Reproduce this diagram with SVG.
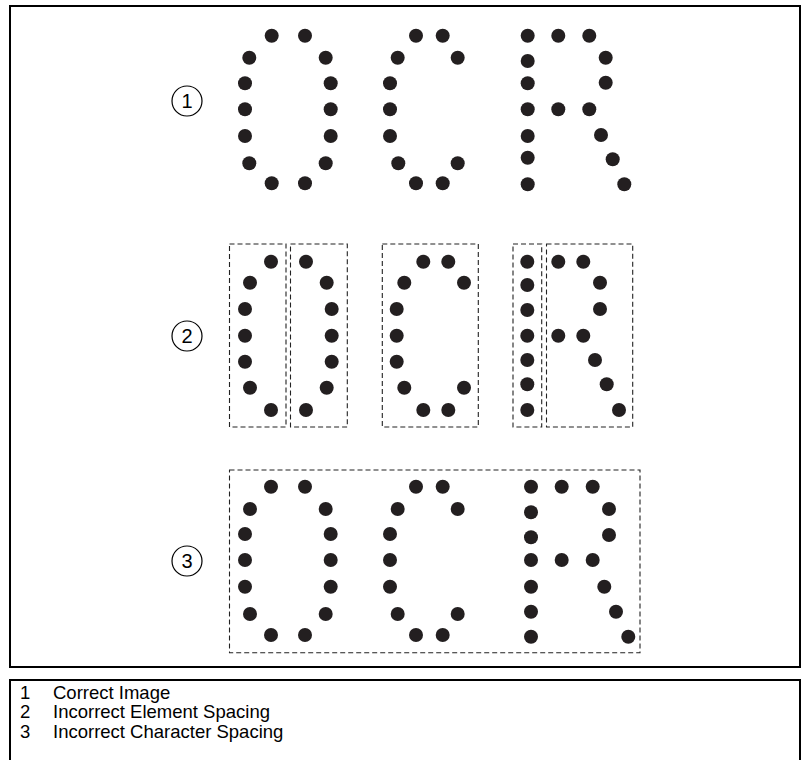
<svg xmlns="http://www.w3.org/2000/svg" xmlns:xlink="http://www.w3.org/1999/xlink" width="802" height="760" viewBox="0 0 802 760">
<style>
.frame{fill:none;stroke:#000;stroke-width:2}
.d{fill:#231f20}
.box{fill:none;stroke:#222;stroke-width:1.1;stroke-dasharray:5 3}
.lbl{fill:none;stroke:#000;stroke-width:1.2}
.num{font-family:"Liberation Sans",Arial,sans-serif;font-size:20px;text-anchor:middle;fill:#000}
.leg{font-family:"Liberation Sans",Arial,sans-serif;font-size:18.5px;fill:#000}
</style>
<rect width="802" height="760" fill="#fff"/>
<rect class="frame" x="10" y="6" width="790" height="661"/>
<rect class="frame" x="10" y="680" width="790" height="100"/>

<g id="label1"><circle class="lbl" cx="187" cy="101" r="15"/><text class="num" x="187" y="108">1</text></g>
<g id="label2"><circle class="lbl" cx="187" cy="336" r="15"/><text class="num" x="187" y="343">2</text></g>
<g id="label3"><circle class="lbl" cx="187" cy="561" r="15"/><text class="num" x="187" y="568">3</text></g>

<g id="row1">
<g id="row1-O">
<circle class="d" cx="271.7" cy="35.7" r="7"/><circle class="d" cx="305" cy="35.7" r="7"/>
<circle class="d" cx="249.3" cy="57.7" r="7"/><circle class="d" cx="325.7" cy="57.7" r="7"/>
<circle class="d" cx="245" cy="83.3" r="7"/><circle class="d" cx="330.7" cy="83.3" r="7"/>
<circle class="d" cx="245" cy="109.3" r="7"/><circle class="d" cx="330.7" cy="109.3" r="7"/>
<circle class="d" cx="245" cy="136" r="7"/><circle class="d" cx="330.7" cy="136" r="7"/>
<circle class="d" cx="249.3" cy="163.3" r="7"/><circle class="d" cx="325.7" cy="163.3" r="7"/>
<circle class="d" cx="271.7" cy="183.3" r="7"/><circle class="d" cx="305" cy="183.3" r="7"/>
</g>
<g id="row1-C">
<circle class="d" cx="416" cy="35.7" r="7"/><circle class="d" cx="442.7" cy="35.7" r="7"/>
<circle class="d" cx="397.7" cy="57.7" r="7"/><circle class="d" cx="457.7" cy="57.7" r="7"/>
<circle class="d" cx="390" cy="83.3" r="7"/><circle class="d" cx="390" cy="109.3" r="7"/><circle class="d" cx="390" cy="136" r="7"/>
<circle class="d" cx="398.3" cy="163.3" r="7"/><circle class="d" cx="457.7" cy="163.3" r="7"/>
<circle class="d" cx="416" cy="183.3" r="7"/><circle class="d" cx="442.7" cy="183.3" r="7"/>
</g>
<g id="row1-R">
<circle class="d" cx="527.7" cy="35.7" r="7"/><circle class="d" cx="527.7" cy="61" r="7"/><circle class="d" cx="527.7" cy="83.3" r="7"/><circle class="d" cx="527.7" cy="109.3" r="7"/><circle class="d" cx="527.7" cy="136" r="7"/><circle class="d" cx="527.7" cy="157.7" r="7"/><circle class="d" cx="527.7" cy="184.3" r="7"/>
<circle class="d" cx="558.3" cy="35.7" r="7"/><circle class="d" cx="589.3" cy="35.7" r="7"/>
<circle class="d" cx="605.7" cy="57.7" r="7"/><circle class="d" cx="605.7" cy="82.7" r="7"/>
<circle class="d" cx="558.3" cy="109.3" r="7"/><circle class="d" cx="589.3" cy="109.3" r="7"/>
<circle class="d" cx="601" cy="135" r="7"/><circle class="d" cx="612.7" cy="159.3" r="7"/><circle class="d" cx="624.3" cy="184.3" r="7"/>
</g>
</g>

<g id="row2">
<g id="row2-O-left">
<rect class="box" x="229.5" y="244" width="56.5" height="183"/>
<circle class="d" cx="271" cy="261.7" r="7"/><circle class="d" cx="250" cy="282.7" r="7"/><circle class="d" cx="245" cy="309" r="7"/><circle class="d" cx="245" cy="335.7" r="7"/><circle class="d" cx="245" cy="361.7" r="7"/><circle class="d" cx="250" cy="387.7" r="7"/><circle class="d" cx="271" cy="410" r="7"/>
</g>
<g id="row2-O-right">
<rect class="box" x="290.5" y="244" width="56.8" height="183"/>
<circle class="d" cx="306" cy="261.7" r="7"/><circle class="d" cx="326.7" cy="282.7" r="7"/><circle class="d" cx="331.7" cy="309" r="7"/><circle class="d" cx="331.7" cy="335.7" r="7"/><circle class="d" cx="331.7" cy="361.7" r="7"/><circle class="d" cx="326.7" cy="387.7" r="7"/><circle class="d" cx="306" cy="410" r="7"/>
</g>
<g id="row2-C">
<rect class="box" x="382.3" y="244" width="96" height="183"/>
<circle class="d" cx="423.3" cy="261.7" r="7"/><circle class="d" cx="448.3" cy="261.7" r="7"/>
<circle class="d" cx="404.3" cy="282.7" r="7"/><circle class="d" cx="464" cy="282.7" r="7"/>
<circle class="d" cx="396.7" cy="309" r="7"/><circle class="d" cx="396.7" cy="335.7" r="7"/><circle class="d" cx="396.7" cy="361.7" r="7"/>
<circle class="d" cx="404.3" cy="387.7" r="7"/><circle class="d" cx="464" cy="387.7" r="7"/>
<circle class="d" cx="423.3" cy="410" r="7"/><circle class="d" cx="448.3" cy="410" r="7"/>
</g>
<g id="row2-R-left">
<rect class="box" x="513" y="244" width="28.7" height="183"/>
<circle class="d" cx="527.3" cy="261.7" r="7"/><circle class="d" cx="527.3" cy="285" r="7"/><circle class="d" cx="527.3" cy="310" r="7"/><circle class="d" cx="527.3" cy="335.7" r="7"/><circle class="d" cx="527.3" cy="360" r="7"/><circle class="d" cx="527.3" cy="384.3" r="7"/><circle class="d" cx="527.3" cy="410" r="7"/>
</g>
<g id="row2-R-right">
<rect class="box" x="546.5" y="244" width="86.2" height="183"/>
<circle class="d" cx="558.3" cy="261.7" r="7"/><circle class="d" cx="583.3" cy="261.7" r="7"/>
<circle class="d" cx="600" cy="282.7" r="7"/><circle class="d" cx="600" cy="309" r="7"/>
<circle class="d" cx="558.3" cy="335.7" r="7"/><circle class="d" cx="583.3" cy="335.7" r="7"/>
<circle class="d" cx="595" cy="360" r="7"/><circle class="d" cx="606.7" cy="384.3" r="7"/><circle class="d" cx="619" cy="410" r="7"/>
</g>
</g>

<g id="row3">
<rect class="box" x="229.5" y="470" width="410.5" height="182.7"/>
<g id="row3-O">
<circle class="d" cx="271" cy="486.7" r="7"/><circle class="d" cx="305" cy="486.7" r="7"/>
<circle class="d" cx="250" cy="509" r="7"/><circle class="d" cx="325.7" cy="509" r="7"/>
<circle class="d" cx="245" cy="534" r="7"/><circle class="d" cx="330.7" cy="534" r="7"/>
<circle class="d" cx="245" cy="560" r="7"/><circle class="d" cx="330.7" cy="560" r="7"/>
<circle class="d" cx="245" cy="586.7" r="7"/><circle class="d" cx="330.7" cy="586.7" r="7"/>
<circle class="d" cx="250" cy="614" r="7"/><circle class="d" cx="325.7" cy="614" r="7"/>
<circle class="d" cx="271" cy="635" r="7"/><circle class="d" cx="305" cy="635" r="7"/>
</g>
<g id="row3-C">
<circle class="d" cx="416" cy="486.7" r="7"/><circle class="d" cx="442.7" cy="486.7" r="7"/>
<circle class="d" cx="397.7" cy="509" r="7"/><circle class="d" cx="457.7" cy="509" r="7"/>
<circle class="d" cx="390" cy="534" r="7"/><circle class="d" cx="390" cy="560" r="7"/><circle class="d" cx="390" cy="586.7" r="7"/>
<circle class="d" cx="397.7" cy="614" r="7"/><circle class="d" cx="457.7" cy="614" r="7"/>
<circle class="d" cx="416" cy="635" r="7"/><circle class="d" cx="442.7" cy="635" r="7"/>
</g>
<g id="row3-R">
<circle class="d" cx="531" cy="486.7" r="7"/><circle class="d" cx="531" cy="512.3" r="7"/><circle class="d" cx="531" cy="537.3" r="7"/><circle class="d" cx="531" cy="560" r="7"/><circle class="d" cx="531" cy="586.7" r="7"/><circle class="d" cx="531" cy="611.7" r="7"/><circle class="d" cx="531" cy="636.7" r="7"/>
<circle class="d" cx="561.7" cy="486.7" r="7"/><circle class="d" cx="592.7" cy="486.7" r="7"/>
<circle class="d" cx="609" cy="509" r="7"/><circle class="d" cx="609" cy="535" r="7"/>
<circle class="d" cx="561.7" cy="560" r="7"/><circle class="d" cx="592.7" cy="560" r="7"/>
<circle class="d" cx="604.3" cy="586.7" r="7"/><circle class="d" cx="616" cy="611.7" r="7"/><circle class="d" cx="628.3" cy="636.7" r="7"/>
</g>
</g>

<g id="connectors"></g>

<g id="legend">
<text class="leg" x="20" y="698.5">1</text><text class="leg" x="53" y="698.5">Correct Image</text>
<text class="leg" x="20" y="718">2</text><text class="leg" x="53" y="718">Incorrect Element Spacing</text>
<text class="leg" x="20" y="737.5">3</text><text class="leg" x="53" y="737.5">Incorrect Character Spacing</text>
</g>
</svg>
